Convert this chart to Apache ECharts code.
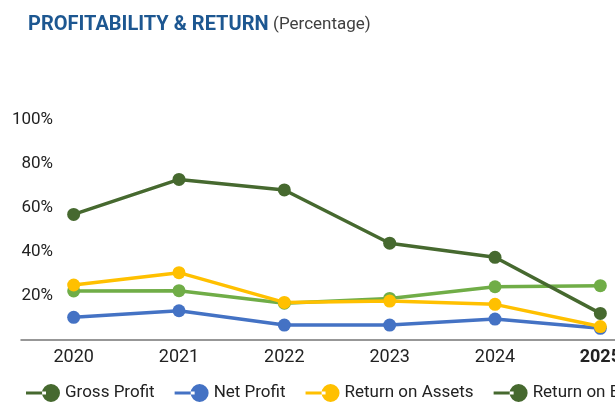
<!DOCTYPE html>
<html>
<head>
<meta charset="utf-8">
<script src="https://cdn.jsdelivr.net/npm/echarts@6/dist/echarts.min.js"></script>
<style>
  html, body { margin: 0; padding: 0; background: #fff; overflow: hidden; }
  #chart { width: 660px; height: 403px; }
</style>
</head>
<body>
<div id="chart"></div>
<script>
// values (percent)
const years = ['2020', '2021', '2022', '2023', '2024', '2025']
const grossProfit = [57.1, 73.0, 68.2, 44.0, 37.6, 12.1]
const netProfit = [10.3, 13.3, 6.8, 6.8, 9.5, 5.3]
const returnOnAssets = [25.0, 30.6, 17.1, 17.7, 16.2, 6.1]
const returnOnEquity = [22.3, 22.4, 16.7, 18.9, 24.2, 24.7]

const DARK = '#46692f', LIGHT = '#70ad47', BLUE = '#4472c4', YELLOW = '#ffc000'
const font = 'Roboto, "Noto Sans", sans-serif'
// legend icon: short line with a big dot at its right end
const legendIcon = 'path://M0,7.6L20,7.6L20,10.4L0,10.4Z M16,9A9,9 0 1,0 34,9A9,9 0 1,0 16,9Z'

function line(name, data, color) {
  return {
    name: name,
    type: 'line',
    data: data,
    symbol: 'circle',
    symbolSize: 13,
    itemStyle: { color: color },
    lineStyle: { color: color, width: 3.5 },
    emphasis: { disabled: true }
  }
}

const chart = echarts.init(document.getElementById('chart'))
chart.setOption({
  animation: false,
  textStyle: { fontFamily: font },
  title: {
    left: 23,
    top: 10,
    text: '{b|PROFITABILITY & RETURN} {n|(Percentage)}',
    textStyle: {
      fontWeight: 'normal',
      rich: {
        b: { fontFamily: font, fontSize: 20, fontWeight: 'bold', color: '#1d5791' },
        n: { fontFamily: font, fontSize: 17, fontWeight: 'normal', color: '#404040' }
      }
    }
  },
  legend: {
    left: 21,
    top: 379,
    width: 1000,
    icon: legendIcon,
    itemWidth: 34,
    itemHeight: 18,
    itemGap: 20,
    textStyle: { fontFamily: font, fontSize: 17, color: '#222' },
    data: [
      { name: 'Gross Profit' },
      { name: 'Net Profit' },
      { name: 'Return on Assets' },
      { name: 'Return on Equity', itemStyle: { color: DARK } }
    ]
  },
  grid: { left: 21, top: 120, width: 632, bottom: 63, containLabel: false },
  xAxis: {
    type: 'category',
    data: years,
    boundaryGap: true,
    axisLine: { lineStyle: { color: '#767676', width: 1.5 } },
    axisTick: { show: false },
    axisLabel: {
      interval: 0,
      margin: 8,
      fontSize: 18,
      color: '#222',
      fontFamily: font,
      formatter: function (v) { return v === '2025' ? '{bold|' + v + '}' : v },
      rich: { bold: { fontWeight: 'bold', fontSize: 18, color: '#222', fontFamily: font } }
    }
  },
  yAxis: {
    type: 'value',
    min: 0,
    max: 100,
    interval: 20,
    splitLine: { show: false },
    axisLine: { show: false },
    axisTick: { show: false },
    axisLabel: {
      margin: -32,
      fontSize: 17,
      color: '#222',
      fontFamily: font,
      formatter: function (v) { return v === 0 ? '' : v + '%' }
    }
  },
  series: [
    line('Return on Equity', returnOnEquity, LIGHT),
    line('Net Profit', netProfit, BLUE),
    line('Return on Assets', returnOnAssets, YELLOW),
    line('Gross Profit', grossProfit, DARK)
  ]
})
</script>
</body>
</html>
